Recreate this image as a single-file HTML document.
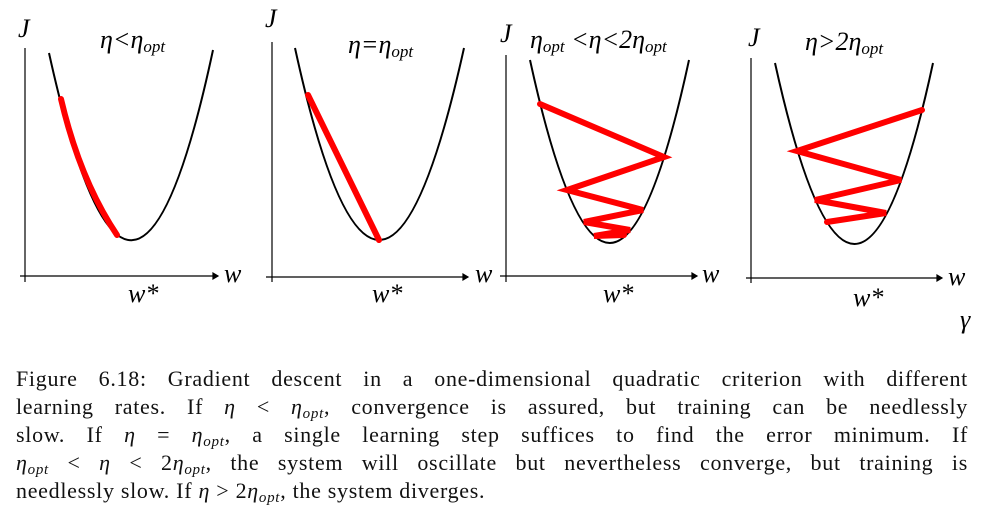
<!DOCTYPE html>
<html><head><meta charset="utf-8"><style>
body{margin:0;background:#fff;width:986px;height:526px;overflow:hidden;position:relative;font-family:"Liberation Serif",serif;}
.l{position:absolute;left:16px;width:952px;font-size:22px;letter-spacing:0.7px;line-height:28px;text-align:justify;text-align-last:justify;white-space:nowrap;color:#111}
.l.last{text-align-last:left}
i{font-style:italic}
sub{font-size:15px;vertical-align:-4px;line-height:0;font-style:italic}
</style></head><body>
<svg width="986" height="340" style="position:absolute;left:0;top:0" font-family="Liberation Serif, serif" font-style="italic">
<g stroke="#000" stroke-width="1.2" fill="none">
<path d="M25 48V282M20 276H218"/><path d="M218 276l-5-3v6z" fill="#000"/>
<path d="M272 42V282M266 277H468"/><path d="M468 277l-5-3v6z" fill="#000"/>
<path d="M506 55V282M500 276H697"/><path d="M697 276l-5-3v6z" fill="#000"/>
<path d="M751 58V283M746 278H942"/><path d="M942 278l-5-3v6z" fill="#000"/>
</g>
<g stroke="#000" stroke-width="2" fill="none">
<path d="M49 53Q132 429 213 50"/>
<path d="M295 48Q379 432 464 48"/>
<path d="M530 60Q610 426 689 60"/>
<path d="M775 63Q855 425 933 63"/>
</g>
<g stroke="#f00" stroke-width="6" fill="none" stroke-linejoin="miter" stroke-linecap="round">
<path d="M61 99Q80 180 117 235"/>
<path d="M308 95L379 240"/>
<path d="M540 104L664 157L567 190L643 210L584 222L630 230L594 236L624 235"/>
<path d="M922 110L797 151L901 180L815 200L886 213L827 222"/>
</g>
<g font-size="26" fill="#000">
<text x="18" y="37">J</text><text x="265" y="27">J</text><text x="500" y="42">J</text><text x="748" y="46">J</text>
<text x="224" y="282">w</text><text x="475" y="282">w</text><text x="702" y="282">w</text><text x="948" y="285">w</text>
<text x="128" y="302">w*</text><text x="372" y="302">w*</text><text x="603" y="302">w*</text><text x="853" y="306">w*</text>
<text x="960" y="328">γ</text>
<text x="100" y="48">η&lt;η<tspan font-size="17" dy="4">opt</tspan></text>
<text x="348" y="53">η=η<tspan font-size="17" dy="4">opt</tspan></text>
<text x="530" y="48">η<tspan font-size="17" dy="4">opt</tspan><tspan dy="-4"> &lt;η&lt;2η</tspan><tspan font-size="17" dy="4">opt</tspan></text>
<text x="805" y="50">η&gt;2η<tspan font-size="17" dy="4">opt</tspan></text>
</g>
</svg>
<div class="l" style="top:365px">Figure 6.18: Gradient descent in a one-dimensional quadratic criterion with different</div>
<div class="l" style="top:393px">learning rates. If <i>η</i> &lt; <i>η</i><sub>opt</sub>, convergence is assured, but training can be needlessly</div>
<div class="l" style="top:421px">slow. If <i>η</i> = <i>η</i><sub>opt</sub>, a single learning step suffices to find the error minimum. If</div>
<div class="l" style="top:449px"><i>η</i><sub>opt</sub> &lt; <i>η</i> &lt; 2<i>η</i><sub>opt</sub>, the system will oscillate but nevertheless converge, but training is</div>
<div class="l last" style="top:477px">needlessly slow. If <i>η</i> &gt; 2<i>η</i><sub>opt</sub>, the system diverges.</div>
</body></html>
